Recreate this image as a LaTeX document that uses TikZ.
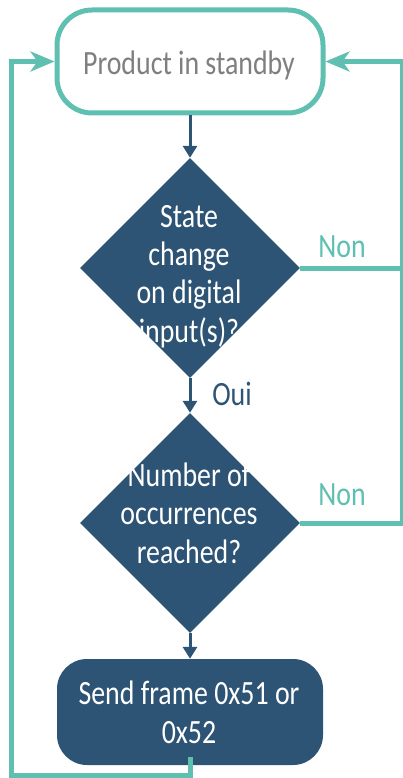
\documentclass[tikz,border=0pt]{standalone}
\usepackage{fontspec}
\setmainfont[FakeStretch=0.82]{Carlito}
\usetikzlibrary{shapes.geometric,arrows.meta}
\definecolor{teal1}{HTML}{5FBFB1}
\definecolor{navy1}{HTML}{2D5474}
\definecolor{gray1}{HTML}{7F7F7F}
\begin{document}
\begin{tikzpicture}[x=1pt,y=-1pt,
  txt/.style={font=\fontsize{34}{38.3}\selectfont, align=center, inner sep=0pt},
  dec/.style={diamond, fill=navy1, minimum width=220pt, minimum height=220pt, inner sep=0pt},
  tline/.style={draw=teal1, line width=5pt},
  tarrow/.style={tline, -{Stealth[length=24pt,width=20pt,inset=7pt]}},
  narrow/.style={draw=navy1, line width=3pt, -{Triangle[length=12pt,width=14pt]}},
]
\useasboundingbox (0,0) rectangle (402,778);
\node[draw=teal1, fill=white, line width=5pt, rounded corners=35pt, minimum width=266pt, minimum height=103pt] (top) at (190,61.5) {};
\node[dec] (d1) at (190,268) {};
\node[dec] (d2) at (190,523) {};
\node[fill=navy1, rounded corners=30pt, minimum width=266pt, minimum height=106pt] (send) at (190,712) {};

\coordinate (r1) at (402.5,268);
\coordinate (r2) at (402.5,523);
\coordinate (rt) at (402.5,61.5);
\coordinate (sb) at (190,757);
\coordinate (lb1) at (190,775);
\coordinate (lb2) at (11,775);
\coordinate (lt) at (11,61.5);

\draw[narrow] (top.south) -- (d1.north);
\draw[narrow] (d1.south) -- (d2.north);
\draw[narrow] (d2.south) -- (send.north);

\draw[tline] (d1.east) -- (r1);
\draw[tarrow] (d2.east) -- (r2) -- (rt) -- (top.east);
\draw[tarrow] (sb) -- (lb1) -- (lb2) -- (lt) -- (top.west);

\node[txt, text=gray1, anchor=base] (ttop) at (189,75) {Product in standby};
\node[txt, text=white, anchor=base] (td1) at (189,342) {State\\change\\on digital\\input(s)?};
\node[txt, text=white, anchor=base] (td2) at (189,563) {Number of\\occurrences\\reached?};
\node[txt, text=white, anchor=base] (tsend) at (189,743) {Send frame 0x51 or\\0x52};
\node[txt, text=teal1, anchor=base] (non1) at (342,257) {Non};
\node[txt, text=teal1, anchor=base] (non2) at (342,505) {Non};
\node[txt, text=navy1, anchor=base] (oui) at (232,405) {Oui};
\end{tikzpicture}
\end{document}
